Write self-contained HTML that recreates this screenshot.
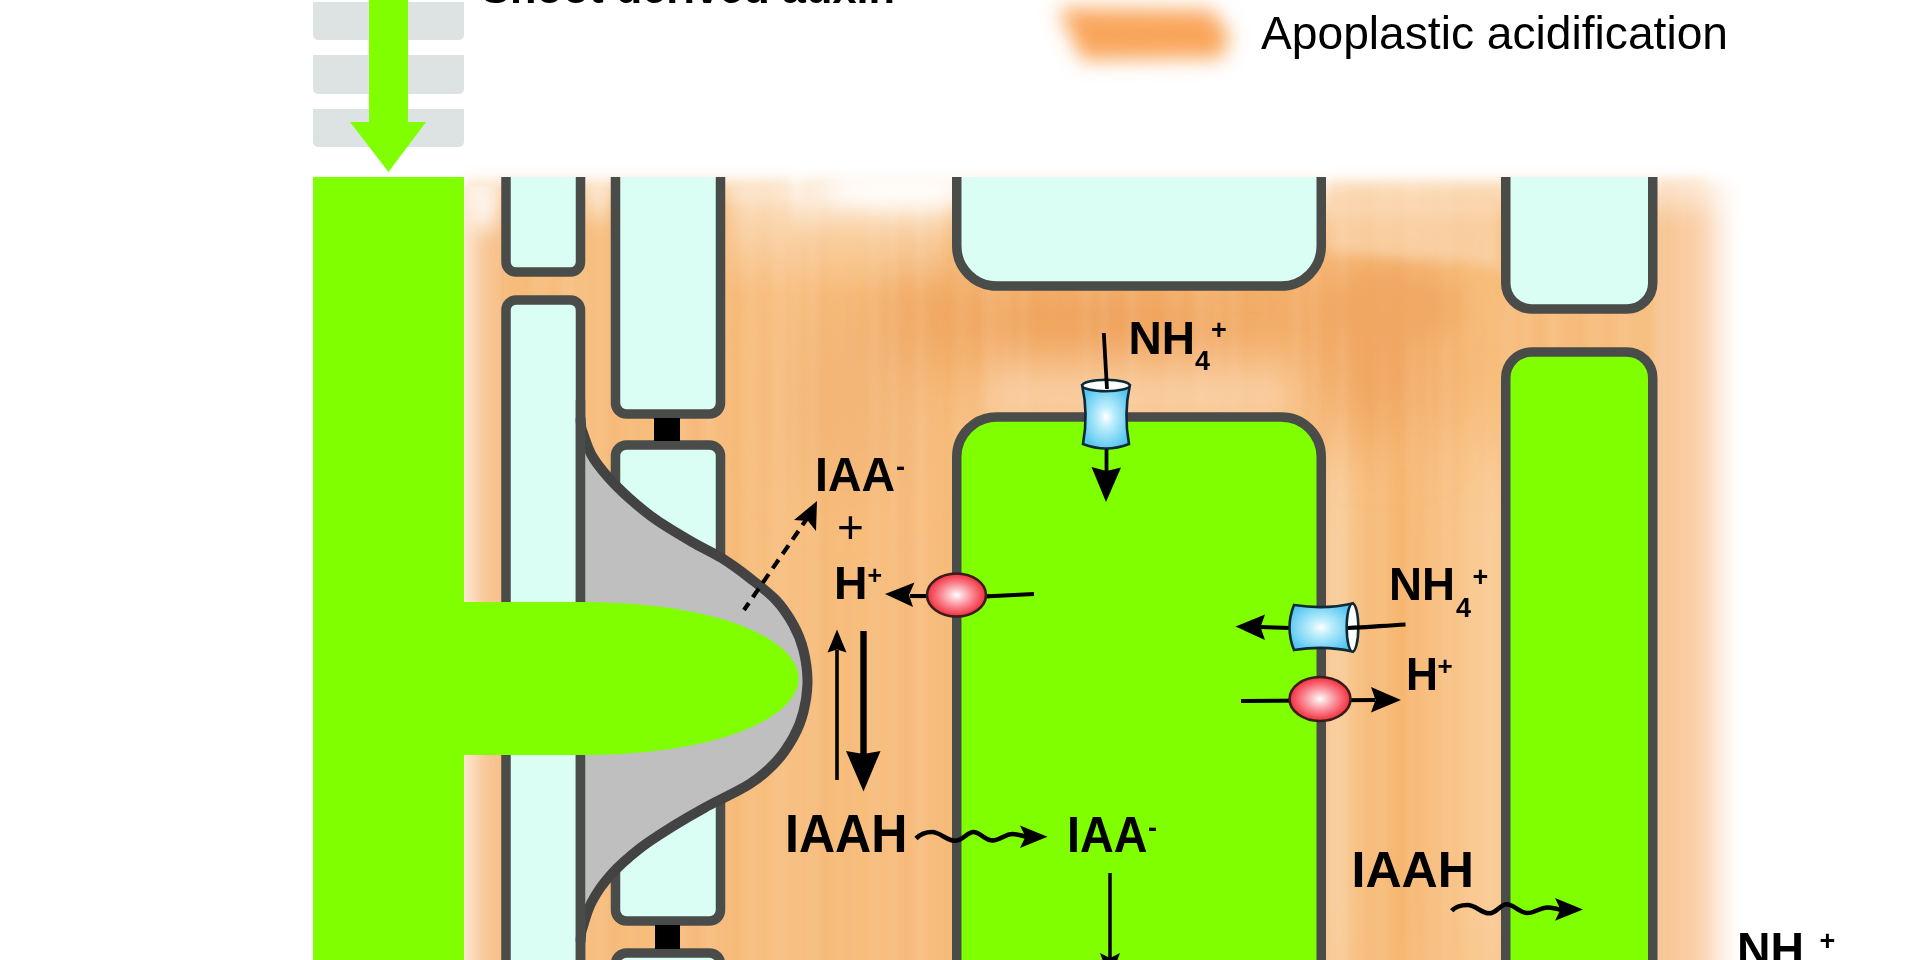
<!DOCTYPE html>
<html><head><meta charset="utf-8">
<style>
html,body{margin:0;padding:0;background:#fff;width:1920px;height:960px;overflow:hidden}
svg{display:block}
text{font-family:"Liberation Sans",sans-serif}
.b{font-weight:bold}
</style></head><body>
<svg width="1920" height="960" viewBox="0 0 1920 960">
<defs>
  <filter id="vblur" x="-20%" y="-30%" width="140%" height="160%"><feGaussianBlur stdDeviation="4 40"/></filter>
  <filter id="blur6" x="-10%" y="-10%" width="120%" height="120%"><feGaussianBlur stdDeviation="6"/></filter>
  <filter id="blur10" x="-30%" y="-80%" width="160%" height="260%"><feGaussianBlur stdDeviation="10"/></filter>
  <filter id="blur8" x="-20%" y="-50%" width="140%" height="200%"><feGaussianBlur stdDeviation="8"/></filter>
  <filter id="blur14" x="-30%" y="-30%" width="160%" height="160%"><feGaussianBlur stdDeviation="14"/></filter>
  <filter id="blur30" x="-50%" y="-50%" width="200%" height="200%"><feGaussianBlur stdDeviation="30"/></filter>
  <radialGradient id="redg" cx="0.5" cy="0.5" r="0.5">
    <stop offset="0" stop-color="#fff"/>
    <stop offset="0.2" stop-color="#fdd0d4"/>
    <stop offset="0.6" stop-color="#f97a86"/>
    <stop offset="0.9" stop-color="#f5404e"/>
    <stop offset="1" stop-color="#e83444"/>
  </radialGradient>
  <radialGradient id="blueg" cx="0.5" cy="0.5" r="0.55">
    <stop offset="0" stop-color="#fff"/>
    <stop offset="0.3" stop-color="#bdeefc"/>
    <stop offset="1" stop-color="#55c6f0"/>
  </radialGradient>
  <filter id="hblur" x="-5%" y="-5%" width="110%" height="110%"><feGaussianBlur stdDeviation="3 0"/></filter>
  <pattern id="streaks" x="0" y="0" width="211" height="900" patternUnits="userSpaceOnUse"><rect x="10" y="0" width="12" height="900" fill="#e58c40" opacity="0.020"/><rect x="22" y="0" width="4" height="900" fill="#e58c40" opacity="0.020"/><rect x="26" y="0" width="6" height="900" fill="#fff" opacity="0.050"/><rect x="32" y="0" width="4" height="900" fill="#fff" opacity="0.060"/><rect x="43" y="0" width="3" height="900" fill="#e58c40" opacity="0.030"/><rect x="46" y="0" width="6" height="900" fill="#fff" opacity="0.075"/><rect x="52" y="0" width="8" height="900" fill="#e58c40" opacity="0.035"/><rect x="60" y="0" width="8" height="900" fill="#e58c40" opacity="0.040"/><rect x="68" y="0" width="4" height="900" fill="#e58c40" opacity="0.040"/><rect x="72" y="0" width="10" height="900" fill="#fff" opacity="0.065"/><rect x="82" y="0" width="3" height="900" fill="#e58c40" opacity="0.035"/><rect x="97" y="0" width="14" height="900" fill="#e58c40" opacity="0.035"/><rect x="111" y="0" width="8" height="900" fill="#fff" opacity="0.040"/><rect x="119" y="0" width="6" height="900" fill="#fff" opacity="0.045"/><rect x="139" y="0" width="14" height="900" fill="#fff" opacity="0.080"/><rect x="153" y="0" width="4" height="900" fill="#e58c40" opacity="0.025"/><rect x="157" y="0" width="10" height="900" fill="#fff" opacity="0.055"/><rect x="174" y="0" width="10" height="900" fill="#fff" opacity="0.050"/><rect x="184" y="0" width="14" height="900" fill="#e58c40" opacity="0.035"/><rect x="202" y="0" width="14" height="900" fill="#e58c40" opacity="0.020"/></pattern>
</defs>

<!-- top-left gray stack -->
<g fill="#dde2e2">
  <path d="M313,2 H464 V34 Q464,40 458,40 H319 Q313,40 313,34 Z"/>
  <path d="M313,55 H464 V88 Q464,94 458,94 H319 Q313,94 313,88 Z"/>
  <path d="M313,109 H464 V141 Q464,147 458,147 H319 Q313,147 313,141 Z"/>
</g>
<!-- green arrow -->
<path d="M369,0 L408,0 L408,122 L426,122 L388.5,172 L350,122 L369,122 Z" fill="#80ff00"/>

<!-- orange apoplast -->
<g id="orange">
  <linearGradient id="lstrip" x1="0" y1="0" x2="1" y2="0">
    <stop offset="0" stop-color="#fce4cc"/>
    <stop offset="0.5" stop-color="#f9cda0"/>
    <stop offset="1" stop-color="#f6b77a"/>
  </linearGradient>
  <linearGradient id="gapR" x1="0" y1="0" x2="1" y2="0">
    <stop offset="0" stop-color="#fad4a8"/>
    <stop offset="0.15" stop-color="#f8c48a"/>
    <stop offset="0.45" stop-color="#f6b46c"/>
    <stop offset="0.8" stop-color="#f9c992"/>
    <stop offset="1" stop-color="#facf9f"/>
  </linearGradient>
  <linearGradient id="farR" x1="0" y1="0" x2="1" y2="0">
    <stop offset="0" stop-color="#f8c797"/>
    <stop offset="0.5" stop-color="#facfa8"/>
    <stop offset="1" stop-color="#fff"/>
  </linearGradient>
  <linearGradient id="topW" x1="0" y1="0" x2="0" y2="1">
    <stop offset="0" stop-color="#fff" stop-opacity="0.95"/>
    <stop offset="0.35" stop-color="#fff" stop-opacity="0.55"/>
    <stop offset="1" stop-color="#fff" stop-opacity="0"/>
  </linearGradient>
  <rect x="468" y="178" width="1238" height="830" fill="#f7bd7d" filter="url(#blur6)"/>
  <rect x="464" y="186" width="40" height="800" fill="url(#lstrip)"/>
  <rect x="1326" y="440" width="176" height="560" fill="url(#gapR)" filter="url(#vblur)"/>
  <rect x="1655" y="180" width="82" height="800" fill="url(#farR)" filter="url(#blur6)"/>
  <g filter="url(#blur30)">
    <ellipse cx="1130" cy="325" rx="230" ry="45" fill="#efa25c"/>
    <ellipse cx="935" cy="315" rx="60" ry="55" fill="#f0a862"/>
    <ellipse cx="1385" cy="355" rx="55" ry="90" fill="#f0a660"/>
    <ellipse cx="1270" cy="305" rx="90" ry="45" fill="#f2ac68"/>
    <ellipse cx="850" cy="400" rx="60" ry="90" fill="#f3b678"/>
  </g>
  <rect x="466" y="180" width="1260" height="790" fill="url(#streaks)" filter="url(#hblur)"/>
  <linearGradient id="memL" x1="0" y1="0" x2="0" y2="1">
    <stop offset="0" stop-color="#fbd9b8" stop-opacity="0"/>
    <stop offset="1" stop-color="#fbd9b8" stop-opacity="0.85"/>
  </linearGradient>
  <rect x="990" y="335" width="300" height="80" fill="url(#memL)" filter="url(#blur14)"/>
  <rect x="462" y="165" width="340" height="40" fill="url(#topW)" filter="url(#blur6)"/>
  <rect x="790" y="160" width="540" height="75" fill="url(#topW)" filter="url(#blur6)"/>
  <rect x="1320" y="160" width="432" height="65" fill="url(#topW)" filter="url(#blur6)"/>
  <rect x="728" y="185" width="222" height="110" fill="url(#topW)" opacity="0.6" filter="url(#blur8)"/>
  <g filter="url(#blur14)"><ellipse cx="1395" cy="305" rx="65" ry="40" fill="#f0a660" opacity="0.8"/></g>
  <path d="M1326,200 L1500,200 L1500,270 L1470,262 L1326,252 Z" fill="#fce0c4" opacity="0.5" filter="url(#blur6)"/>
  <g filter="url(#blur10)">
    <ellipse cx="900" cy="190" rx="80" ry="16" fill="#fff" opacity="0.9"/>
    <ellipse cx="484" cy="205" rx="14" ry="26" fill="#fff" opacity="0.9"/>
    <ellipse cx="598" cy="200" rx="10" ry="22" fill="#fff" opacity="0.7"/>
  </g>
</g>

<clipPath id="below177"><rect x="0" y="177" width="1920" height="800"/></clipPath>
<!-- big green bar -->
<rect x="313" y="177" width="151" height="800" fill="#80ff00"/>

<!-- column 1 cells -->
<g clip-path="url(#below177)" fill="#dafef4" stroke="#4a4c4a" stroke-width="9.5">
  <rect x="506" y="150" width="74.5" height="122" rx="10"/>
  <rect x="506" y="300" width="74.5" height="700" rx="10"/>
</g>
<!-- column 2 cells -->
<g clip-path="url(#below177)" fill="#dafef4" stroke="#4a4c4a" stroke-width="9.5">
  <rect x="615.5" y="130" width="105" height="284" rx="11"/>
  <rect x="615.5" y="445" width="105" height="476" rx="11"/>
  <rect x="615.5" y="953" width="105" height="100" rx="11"/>
</g>
<g fill="#000">
  <rect x="654" y="418" width="26" height="23"/>
  <rect x="655" y="925" width="25" height="24"/>
</g>

<!-- bell -->
<path d="M580.5,418.0 C580.6,419.0 580.7,421.9 581.0,424.0 C581.3,426.1 580.4,425.6 582.2,430.8 C584.0,436.0 587.4,447.5 591.7,455.2 C596.0,462.9 601.6,469.7 607.9,476.9 C614.2,484.1 621.5,491.3 629.6,498.5 C637.7,505.7 646.3,513.0 656.7,520.2 C667.1,527.4 681.1,535.6 691.9,541.9 C702.7,548.2 712.1,552.1 721.7,558.1 C731.3,564.1 740.7,571.0 749.7,578.0 C758.7,585.0 768.6,592.2 775.9,600.0 C783.2,607.8 788.9,616.7 793.5,625.0 C798.1,633.3 801.1,640.7 803.4,650.0 C805.7,659.3 807.5,670.7 807.5,681.0 C807.5,691.3 805.7,702.7 803.4,712.0 C801.1,721.3 798.1,728.7 793.5,737.0 C788.9,745.3 783.2,754.2 775.9,762.0 C768.6,769.8 761.5,776.5 749.7,784.0 C738.0,791.5 718.2,800.2 705.4,807.3 C692.6,814.3 683.7,819.5 672.9,826.3 C662.1,833.1 650.8,839.9 640.4,848.0 C630.0,856.1 618.7,866.0 610.6,875.0 C602.5,884.0 596.4,893.0 591.7,902.0 C587.0,911.0 584.0,923.3 582.2,929.0 C580.4,934.7 581.3,933.8 581.0,936.0 C580.7,938.2 580.6,941.0 580.5,942.0 Z" fill="#bfbfbf"/>
<path d="M580.5,418.0 C580.6,419.0 580.7,421.9 581.0,424.0 C581.3,426.1 580.4,425.6 582.2,430.8 C584.0,436.0 587.4,447.5 591.7,455.2 C596.0,462.9 601.6,469.7 607.9,476.9 C614.2,484.1 621.5,491.3 629.6,498.5 C637.7,505.7 646.3,513.0 656.7,520.2 C667.1,527.4 681.1,535.6 691.9,541.9 C702.7,548.2 712.1,552.1 721.7,558.1 C731.3,564.1 740.7,571.0 749.7,578.0 C758.7,585.0 768.6,592.2 775.9,600.0 C783.2,607.8 788.9,616.7 793.5,625.0 C798.1,633.3 801.1,640.7 803.4,650.0 C805.7,659.3 807.5,670.7 807.5,681.0 C807.5,691.3 805.7,702.7 803.4,712.0 C801.1,721.3 798.1,728.7 793.5,737.0 C788.9,745.3 783.2,754.2 775.9,762.0 C768.6,769.8 761.5,776.5 749.7,784.0 C738.0,791.5 718.2,800.2 705.4,807.3 C692.6,814.3 683.7,819.5 672.9,826.3 C662.1,833.1 650.8,839.9 640.4,848.0 C630.0,856.1 618.7,866.0 610.6,875.0 C602.5,884.0 596.4,893.0 591.7,902.0 C587.0,911.0 584.0,923.3 582.2,929.0 C580.4,934.7 581.3,933.8 581.0,936.0 C580.7,938.2 580.6,941.0 580.5,942.0" fill="none" stroke="#434343" stroke-width="10"/>
<rect x="575.75" y="400" width="9.5" height="560" fill="#4a4c4a"/>
<!-- green horizontal bar -->
<path d="M464,602 L580,602 C720,602 798.5,640 798.5,678.5 C798.5,717 720,755 580,755 L464,755 Z" fill="#80ff00"/>

<!-- central cells -->
<g clip-path="url(#below177)" stroke="#4a4c4a" stroke-width="9.5">
  <rect x="956.75" y="120" width="364.5" height="166" rx="40" fill="#dafef4"/>
  <rect x="956.75" y="417" width="364.5" height="700" rx="40" fill="#80ff00"/>
</g>
<!-- right column -->
<g clip-path="url(#below177)" stroke="#4a4c4a" stroke-width="9.5">
  <rect x="1505.75" y="120" width="147" height="189" rx="26" fill="#dafef4"/>
  <rect x="1505.75" y="352" width="147" height="700" rx="26" fill="#80ff00"/>
</g>
<!-- legend -->
<path d="M1058,8 L1212,10 L1230,36 L1222,58 L1082,60 Z" fill="#f9a65c" filter="url(#blur10)"/>
<text x="1261" y="49" font-size="46" textLength="467" lengthAdjust="spacingAndGlyphs">Apoplastic acidification</text>
<text x="481" y="3" class="b" font-size="44" textLength="414" lengthAdjust="spacingAndGlyphs">Shoot derived auxin</text>

<!-- ===== arrows ===== -->
<g stroke="#000" fill="none" stroke-linecap="butt">
  <!-- top NH4 into cell -->
  <path d="M1106.5,447 L1106.5,472" stroke-width="3.8"/>
  <!-- left pump H+ -->
  <path d="M1034,594 L986,596.4 L910,596" stroke-width="4.2"/>
  <!-- dashed -->
  <path d="M744,610 L806,520" stroke-width="4.2" stroke-dasharray="10.5,7" stroke-dashoffset="2"/>
  <!-- up thin -->
  <path d="M837,780 L837,650" stroke-width="3.6"/>
  <!-- down thick -->
  <path d="M863.5,631 L863.5,755" stroke-width="6.4"/>
  <!-- IAA down -->
  <path d="M1110,873 L1110,960" stroke-width="3.5"/>
  <!-- right NH4 -->
  <path d="M1290,628 L1260,627" stroke-width="4.2"/>
  <!-- right H+ -->
  <path d="M1241,701 L1375,700" stroke-width="4"/>
  <!-- wavy left -->
  <path d="M916,838.5 C921,833.5 926,832 932,832 C940,832 947,840.8 955,840.8 C963,840.8 967,832 973.3,832 C980,832 985,840.4 992.5,840.4 C1000,840.4 1005,834 1012.5,834 C1017,834 1021,835.5 1026,836.7" stroke-width="4.6"/>
  <!-- wavy right -->
  <path d="M1451.7,910.8 C1456,906 1461,905 1467.5,905 C1476,905 1481,913.3 1489,913.3 C1497,913.3 1500,904.2 1506.7,904.2 C1514,904.2 1519,913 1527.5,913 C1535,913 1540,907.5 1547.5,907.5 C1552,907.5 1556,909 1561,909.6" stroke-width="4.6"/>
</g>
<g fill="#000">
  <path d="M1091.5,467 L1106.5,471 L1121,467.5 L1106,502 Z"/>
  <path d="M914.5,582.5 L909,595 L913,607 L885,594 Z"/>
  <path d="M794,520 L808,521 L816,531 L817,501 Z"/>
  <path d="M827.5,652.5 L837,649.5 L846.5,652.5 L837,629.5 Z"/>
  <path d="M846,751 L863.5,754 L880.5,751 L863.5,791.5 Z"/>
  <path d="M1265,614.5 L1260.5,627 L1265,640 L1235.5,626.5 Z"/>
  <path d="M1371,687 L1375.5,700 L1371,712.5 L1401,700 Z"/>
  <path d="M1020,825.4 L1025.5,836.7 L1020,848 L1047.5,836.7 Z"/>
  <path d="M1555,898 L1560.5,909.6 L1555,920.8 L1583,909.6 Z"/>
  <path d="M1100,953 L1110,958 L1120,953 L1110,980 Z"/>
</g>

<!-- channel top -->
<g stroke="#0f2a36" stroke-width="2.6">
  <path d="M1082.2,385.5 C1086.5,405 1086.5,425 1083,444 Q1106,453 1129,444 C1125.5,425 1125.5,405 1129.8,385.5 Z" fill="url(#blueg)"/>
  <ellipse cx="1106" cy="385.5" rx="23.8" ry="5.8" fill="#fff"/>
</g>
<path d="M1103.8,333 L1107,389" stroke="#000" stroke-width="3.8"/>
<!-- channel right -->
<g stroke="#0f2a36" stroke-width="2.6">
  <path d="M1352.5,603.5 C1333,608 1313,608 1294,605 Q1285,627.5 1294,650 C1313,647 1333,647 1352.5,651.5 Z" fill="url(#blueg)"/>
  <ellipse cx="1352.5" cy="627.5" rx="5.8" ry="24" fill="#fff"/>
</g>
<path d="M1405.5,624.5 C1380,626 1365,627.5 1348,628" stroke="#000" stroke-width="4.2" fill="none"/>

<!-- pumps -->
<g stroke="#3a1c1c" stroke-width="2.6" fill="url(#redg)">
  <ellipse cx="956.5" cy="595" rx="29.5" ry="21.5"/>
  <ellipse cx="1320" cy="699" rx="30.5" ry="22"/>
</g>

<!-- labels -->
<g class="b" fill="#000">
  <text x="1128.5" y="354" font-size="46" textLength="66.5" lengthAdjust="spacingAndGlyphs">NH</text>
  <text x="1195" y="369.5" font-size="27">4</text>
  <text x="1211" y="339" font-size="27">+</text>

  <text x="1389" y="600" font-size="46" textLength="66" lengthAdjust="spacingAndGlyphs">NH</text>
  <text x="1456" y="616.5" font-size="27">4</text>
  <text x="1472.5" y="586" font-size="27">+</text>

  <text x="1737" y="965" font-size="46" textLength="67" lengthAdjust="spacingAndGlyphs">NH</text>
  <text x="1819.5" y="950" font-size="27">+</text>

  <text x="815" y="490.8" font-size="48.5" textLength="80" lengthAdjust="spacingAndGlyphs">IAA</text>
  <text x="896" y="476" font-size="27">-</text>
  <text x="837" y="543" font-size="46" font-weight="normal">+</text>

  <text x="834" y="599" font-size="46" textLength="33.5" lengthAdjust="spacingAndGlyphs">H</text>
  <text x="867.5" y="584" font-size="25">+</text>

  <text x="1406" y="690" font-size="46" textLength="32" lengthAdjust="spacingAndGlyphs">H</text>
  <text x="1437.5" y="675" font-size="26">+</text>

  <text x="785" y="851.5" font-size="53" textLength="122.5" lengthAdjust="spacingAndGlyphs">IAAH</text>
  <text x="1067" y="852" font-size="50" textLength="80.5" lengthAdjust="spacingAndGlyphs">IAA</text>
  <text x="1148" y="837" font-size="27">-</text>
  <text x="1351.5" y="886.8" font-size="50.5" textLength="122.5" lengthAdjust="spacingAndGlyphs">IAAH</text>
</g>
</svg>
</body></html>
